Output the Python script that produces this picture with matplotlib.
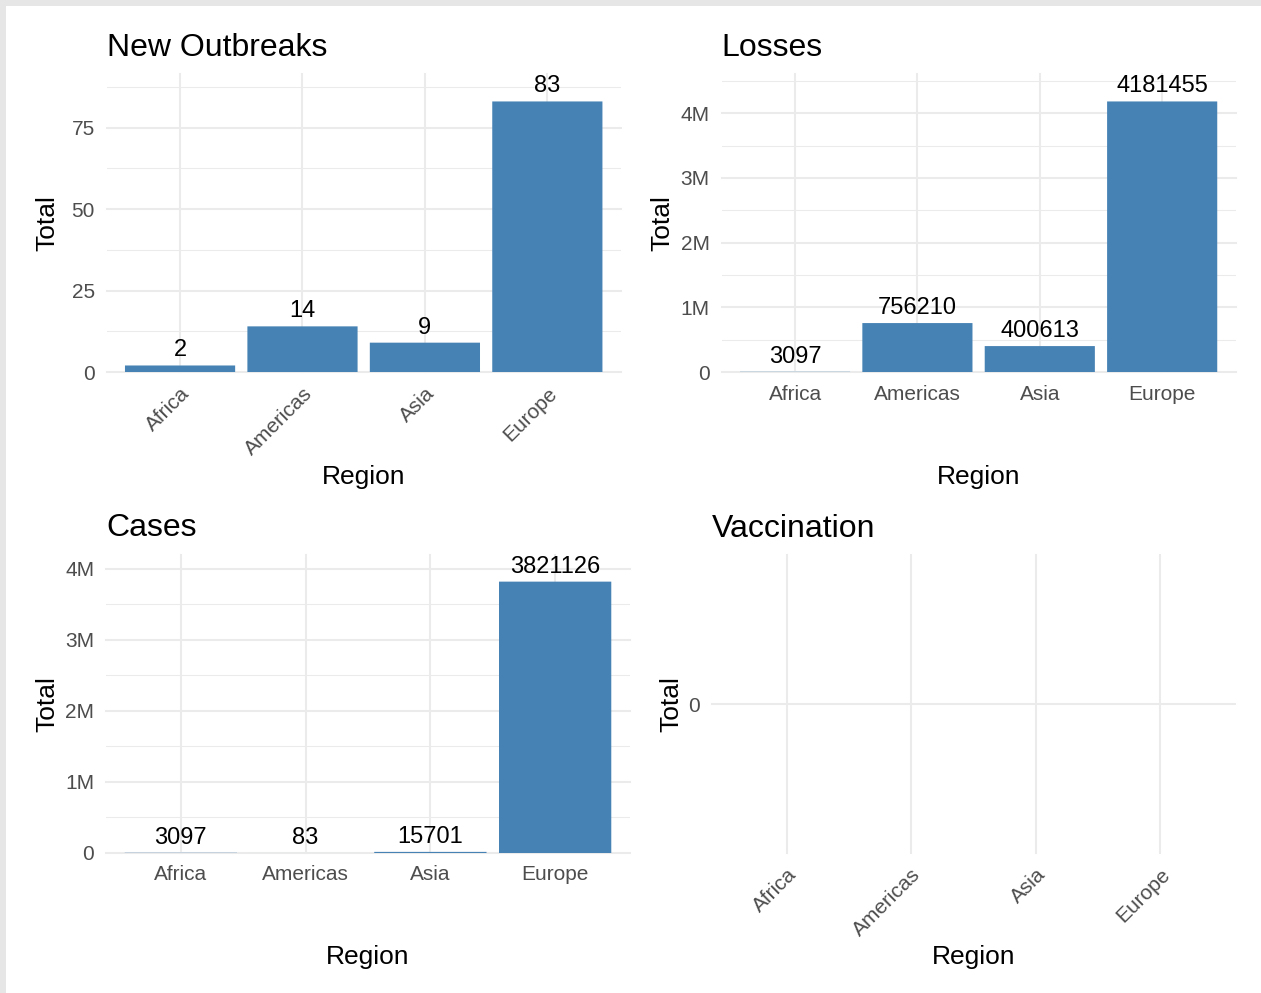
import numpy as np
import matplotlib.pyplot as plt
from matplotlib.patches import Rectangle
from matplotlib.ticker import MultipleLocator, FixedLocator

plt.rcParams['font.family'] = ['Liberation Sans', 'DejaVu Sans']

# data
regions = ['Africa', 'Americas', 'Asia', 'Europe']
new_outbreaks = [2, 14, 9, 83]
losses = [3097, 756210, 400613, 4181455]
cases = [3097, 83, 15701, 3821126]
vaccination = [np.nan, np.nan, np.nan, np.nan]

W, H = 1261, 993
BAR = '#4682B4'
GRID = '#EBEBEB'
TICK = '#4D4D4D'


def add_panel(fig, left, top, right, bottom):
    """Axes placed by pixel box (top-left origin)."""
    return fig.add_axes([left / W, 1 - bottom / H, (right - left) / W, (bottom - top) / H])


def style_panel(ax, title, rotate, ylab_px, xlab_px, left, top, right, bottom):
    for s in ax.spines.values():
        s.set_visible(False)
    ax.set_axisbelow(True)
    ax.grid(True, which='major', color=GRID, linewidth=1.5)
    ax.grid(True, which='minor', axis='y', color=GRID, linewidth=0.75)
    for gl in ax.get_xgridlines() + ax.get_ygridlines():
        gl.set_clip_on(False)
    ax.tick_params(which='both', length=0)
    ax.tick_params(axis='y', labelsize=15, labelcolor=TICK, pad=8.5)
    ax.set_xticks(range(len(regions)))
    if rotate:
        ax.set_xticklabels(regions, rotation=45, ha='right', va='top',
                           rotation_mode='anchor', fontsize=15, color=TICK)
        ax.tick_params(axis='x', pad=8.5)
    else:
        ax.set_xticklabels(regions, fontsize=15, color=TICK)
        ax.tick_params(axis='x', pad=9)
    ax.set_xlim(-0.6, len(regions) - 0.4)
    ax.set_title(title, loc='left', fontsize=23, pad=13)
    ax.set_ylabel('Total', fontsize=19)
    ax.set_xlabel('Region', fontsize=19)
    wpx, hpx = right - left, bottom - top
    ax.yaxis.set_label_coords((ylab_px - left) / wpx, 0.5)
    ax.xaxis.set_label_coords(0.5, (bottom - xlab_px) / hpx)


def draw_bars(ax, values):
    x = np.arange(len(regions))
    ax.bar(x, values, width=0.9, color=BAR, linewidth=0, snap=False)
    for xi, v in zip(x, values):
        if np.isfinite(v):
            ax.annotate(f'{v}', (xi, v), xytext=(0, 6.5), textcoords='offset points',
                        ha='center', va='baseline', fontsize=17)


def m_fmt(vals):
    return ['0' if v == 0 else f'{int(v / 1e6)}M' for v in vals]


fig = plt.figure(figsize=(W / 100, H / 100), dpi=100)
fig.patch.set_facecolor('#E6E6E6')
fig.add_artist(Rectangle((6 / W, 0), 1, 1 - 6 / H, transform=fig.transFigure,
                         facecolor='white', edgecolor='none', zorder=-10))

# New Outbreaks
box = (106.6, 74.4, 620.8, 372)
ax1 = add_panel(fig, *box)
draw_bars(ax1, new_outbreaks)
ax1.set_ylim(0, max(new_outbreaks) * 1.1)
ax1.yaxis.set_major_locator(MultipleLocator(25))
ax1.yaxis.set_minor_locator(MultipleLocator(12.5))
style_panel(ax1, 'New Outbreaks', True, 59, 465, *box)

# Losses
box = (721.6, 74.4, 1235.6, 372)
ax2 = add_panel(fig, *box)
draw_bars(ax2, losses)
ax2.set_ylim(0, max(losses) * 1.1)
lt = [0, 1e6, 2e6, 3e6, 4e6]
ax2.yaxis.set_major_locator(FixedLocator(lt))
ax2.set_yticklabels(m_fmt(lt))
ax2.yaxis.set_minor_locator(MultipleLocator(5e5))
style_panel(ax2, 'Losses', False, 674, 465, *box)

# Cases
box = (106, 554.5, 630, 853)
ax3 = add_panel(fig, *box)
draw_bars(ax3, cases)
ax3.set_ylim(0, max(cases) * 1.1)
ax3.yaxis.set_major_locator(FixedLocator(lt))
ax3.set_yticklabels(m_fmt(lt))
ax3.yaxis.set_minor_locator(MultipleLocator(5e5))
style_panel(ax3, 'Cases', False, 59, 945, *box)

# Vaccination
box = (712, 555, 1235, 853)
ax4 = add_panel(fig, *box)
draw_bars(ax4, vaccination)
ax4.set_ylim(-1, 1)
ax4.yaxis.set_major_locator(FixedLocator([0]))
ax4.yaxis.set_minor_locator(FixedLocator([]))
style_panel(ax4, 'Vaccination', True, 683, 945, *box)

fig.savefig('out.png', dpi=100)
